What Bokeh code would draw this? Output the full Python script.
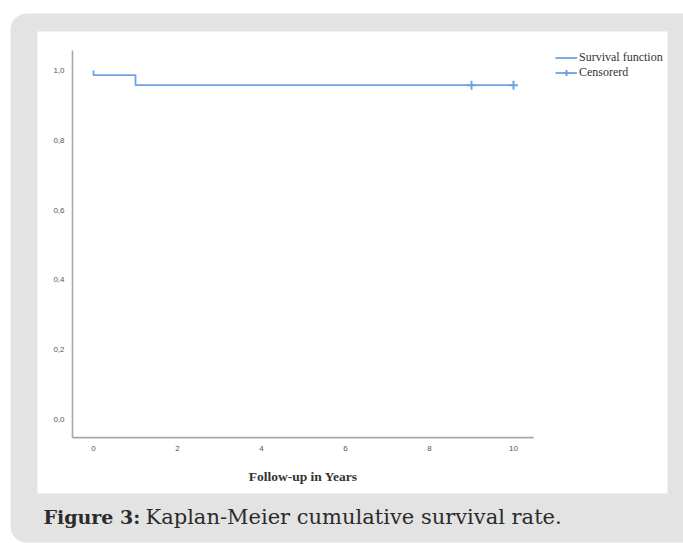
from bokeh.plotting import figure
from bokeh.models import BoxAnnotation, Label, Legend, LegendItem, Range1d
from bokeh.core.properties import value
from bokeh.embed import file_html
from bokeh.resources import INLINE

# ---- data ----
step_times = [0, 0, 1, 10]
step_surv = [1.0, 0.987, 0.958, 0.958]
censored_times = [9, 10]
censored_surv = [0.958, 0.958]
x_ticks = [0, 2, 4, 6, 8, 10]
x_tick_labels = ["0", "2", "4", "6", "8", "10"]
y_ticks = [0.0, 0.2, 0.4, 0.6, 0.8, 1.0]
y_tick_labels = ["0,0", "0,2", "0,4", "0,6", "0,8", "1,0"]
x_axis_extent = [-0.5, 10.48]
y_axis_extent = [-0.052, 1.057]
x_label = "Follow-up in Years"
legend_labels = ["Survival function", "Censorerd"]
caption_bold = "Figure 3:"
caption_text = "Kaplan-Meier cumulative survival rate."

LINE = "#6fa2e4"
GREY = "#e3e3e3"
AXIS = "#a8a8a8"

# ---- layout (pixels on the canvas) ----
W, H = 683, 543
X0_PX, PX_PER_X = 93, 42.0     # canvas x of t=0, px per year
Y1_PX, PX_PER_Y = 70, 349.0    # canvas y of S=1, px per unit


def dx(px):
    return (px - X0_PX) / PX_PER_X


def dy(py):
    return 1.0 - (py - Y1_PX) / PX_PER_Y


p = figure(width=W, height=H, output_backend="svg", toolbar_location=None,
           x_range=Range1d(dx(0), dx(W)), y_range=Range1d(dy(H), dy(0)),
           x_axis_location=None, y_axis_location=None,
           min_border=0, min_border_left=0, min_border_right=0,
           min_border_top=0, min_border_bottom=0)
p.border_fill_color = "white"
p.background_fill_color = "white"
p.outline_line_color = None
p.grid.visible = False

# decorations: grey panel and white card
panel = BoxAnnotation(left=dx(10), right=dx(W + 40), top=dy(13), bottom=dy(542),
                      fill_color=GREY, fill_alpha=1, line_color=None,
                      border_radius=16, level="underlay")
card = BoxAnnotation(left=dx(37), right=dx(667), top=dy(31), bottom=dy(493),
                     fill_color="white", fill_alpha=1, line_color=None,
                     level="underlay")
p.add_layout(panel)
p.add_layout(card)

# axes
p.segment(x0=[x_axis_extent[0], x_axis_extent[0]], y0=[y_axis_extent[0], y_axis_extent[0]],
          x1=[x_axis_extent[1], x_axis_extent[0]], y1=[y_axis_extent[0], y_axis_extent[1]],
          line_color=AXIS, line_width=1.6)
p.text(x=x_ticks, y=[y_axis_extent[0]] * len(x_ticks), text=x_tick_labels,
       y_offset=11, text_align="center", text_baseline="middle",
       text_font=value("Liberation Sans"), text_font_size="8px", text_color="#555555")
p.text(x=[x_axis_extent[0]] * len(y_ticks), y=y_ticks, text=y_tick_labels,
       x_offset=-8, text_align="right", text_baseline="middle",
       text_font=value("Liberation Sans"), text_font_size="8px", text_color="#555555")
p.text(x=[sum(x_axis_extent) / 2], y=[y_axis_extent[0]], text=[x_label],
       y_offset=39, text_align="center", text_baseline="middle",
       text_font=value("Liberation Serif"), text_font_style="bold",
       text_font_size="13.5px", text_color="#333333")

# survival curve and censored marks
step_r = p.step(step_times, step_surv, mode="after", line_color=LINE, line_width=1.8)
cross_r = p.scatter(censored_times, censored_surv, marker="cross", size=9,
                    line_color=LINE, line_width=2)

legend = Legend(items=[LegendItem(label=legend_labels[0], renderers=[step_r]),
                       LegendItem(label=legend_labels[1], renderers=[step_r, cross_r])],
                location=(555, H - 80), margin=0, padding=0, spacing=0,
                glyph_width=22, glyph_height=15, label_height=15,
                label_standoff=2, label_text_font="Liberation Serif",
                label_text_font_size="12px", label_text_color="#333333",
                background_fill_alpha=0, border_line_color=None)
p.add_layout(legend)

cap1 = Label(x=dx(43), y=dy(516), text=caption_bold,
             text_font="DejaVu Serif", text_font_style="bold", text_font_size="19px",
             text_color="#2b2b2b", text_baseline="middle")
cap2 = Label(x=dx(145), y=dy(516), text=caption_text,
             text_font="DejaVu Serif", text_font_size="21px",
             text_color="#2b2b2b", text_baseline="middle")
p.add_layout(cap1)
p.add_layout(cap2)

open("out.html", "w").write(file_html(p, INLINE))
